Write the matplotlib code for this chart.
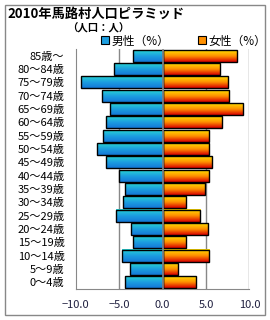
import matplotlib.pyplot as plt
import numpy as np
from matplotlib.colors import LinearSegmentedColormap
from matplotlib.patches import Patch

plt.rcParams["font.family"] = ["Noto Sans CJK JP", "DejaVu Sans"]

# age groups, top to bottom
ages = ["85歳〜", "80〜84歳", "75〜79歳", "70〜74歳", "65〜69歳", "60〜64歳",
        "55〜59歳", "50〜54歳", "45〜49歳", "40〜44歳", "35〜39歳", "30〜34歳",
        "25〜29歳", "20〜24歳", "15〜19歳", "10〜14歳", "5〜9歳", "0〜4歳"]
male = [3.4, 5.6, 9.4, 7.0, 6.0, 6.5, 6.8, 7.5, 6.5, 5.0, 4.3, 4.5,
        5.3, 3.6, 3.4, 4.7, 3.8, 4.3]
female = [8.6, 6.6, 7.5, 7.6, 9.2, 6.8, 5.4, 5.4, 5.7, 5.4, 4.9, 2.7,
          4.3, 5.2, 2.7, 5.4, 1.8, 3.9]
xticks = [-10, -5, 0, 5, 10]

blue_cm = LinearSegmentedColormap.from_list("m", ["#28d4d4", "#1c9ee0", "#1478d8"])
red_cm = LinearSegmentedColormap.from_list("f", ["#ffe000", "#ff9000", "#d80000"])
grad = np.linspace(0, 1, 64).reshape(-1, 1)

fig = plt.figure(figsize=(2.7, 3.2), dpi=100)
ax = fig.add_axes([0.28, 0.097, 0.644, 0.75])

n = len(ages)
ypos = np.arange(n)[::-1]
h = 0.9

ax.barh(ypos, [-v for v in male], height=h, fill=False, edgecolor="black", lw=1, zorder=3)
ax.barh(ypos, female, height=h, fill=False, edgecolor="black", lw=1, zorder=3)
for y, m, f in zip(ypos, male, female):
    ax.imshow(grad, cmap=blue_cm, aspect="auto", extent=[-m, 0, y - h / 2, y + h / 2],
              origin="upper", zorder=2, interpolation="bilinear")
    ax.imshow(grad, cmap=red_cm, aspect="auto", extent=[0, f, y - h / 2, y + h / 2],
              origin="upper", zorder=2, interpolation="bilinear")

ax.set_xlim(-10, 10)
ax.set_ylim(-0.5, n - 0.5)
ax.set_yticks(ypos)
ax.set_yticklabels(ages, fontsize=8)
ax.set_xticks(xticks)
ax.set_xticklabels([f"{t:.1f}".replace("-", "−") for t in xticks], fontsize=8, color="#202040")
ax.tick_params(length=0, pad=8)
ax.tick_params(axis="x", pad=8)
for x in [-5, 5, 10]:
    ax.axvline(x, color="#888888", lw=1, zorder=1)
ax.axvline(0, color="#888888", lw=1.2, zorder=4)
for s in ["top", "right"]:
    ax.spines[s].set_visible(False)
for s in ["left", "bottom"]:
    ax.spines[s].set_color("#888888")

fig.text(0.026, 0.958, "2010年馬路村人口ピラミッド", fontsize=9.5, fontweight="bold", va="center")
fig.text(0.25, 0.913, "（人口：人）", fontsize=7.5, fontweight="bold", va="center")

handles = [Patch(facecolor="#1c9ee0", edgecolor="black", lw=0.8),
           Patch(facecolor="#ff9000", edgecolor="black", lw=0.8)]
fig.legend(handles, ["男性（%）", "女性（%）"], ncol=2, frameon=False,
           loc="center", bbox_to_anchor=(0.68, 0.872), fontsize=8.5,
           handlelength=0.7, handleheight=0.7, handletextpad=0.2, columnspacing=2.4)

fig.add_artist(plt.Rectangle((0.019, 0.016), 0.963, 0.968, transform=fig.transFigure,
                             fill=False, edgecolor="#888888", lw=1))

fig.savefig("out.png", dpi=100)
